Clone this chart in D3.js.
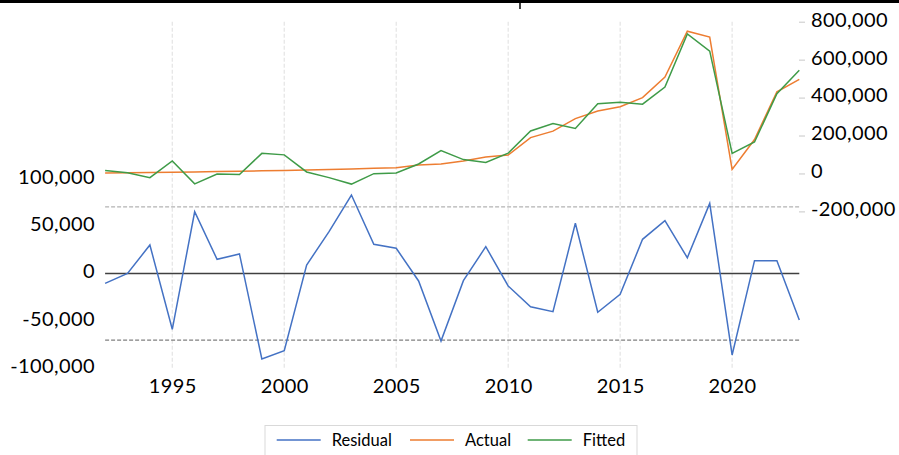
<!DOCTYPE html>
<html>
<head>
<meta charset="utf-8">
<script src="https://cdn.jsdelivr.net/npm/d3@7"></script>
<style>
  body { margin: 0; background: #fff; }
  svg { display: block; font-family: Lato, "Open Sans", sans-serif; }
</style>
</head>
<body>
<svg id="chart" width="899" height="455"></svg>
<script>
// yearly series
const years = d3.range(1992, 2024);
const residual = [-10400, 0, 30200, -59100, 65400, 15000, 20700, -90500, -81800, 9000,
  44300, 83100, 30900, 26700, -7900, -71500, -7600, 28400, -13200, -35200,
  -40500, 53200, -41100, -22000, 36200, 55900, 16700, 74300, -86300, 13600,
  13600, -49200];
const actual = [3000, 4000, 5000, 7000, 8000, 10000, 12000, 14000, 16000, 18000,
  21000, 24000, 28000, 30000, 45000, 50000, 66000, 87000, 97000, 189000,
  223000, 289000, 329000, 352000, 400000, 508000, 750000, 719000, 21000, 179000,
  430000, 496000];
const fitted = [15000, 4000, -22000, 66000, -55000, -3000, -6000, 106000, 98000, 8000,
  -22000, -56000, -1000, 3000, 50000, 121000, 73000, 58000, 107000, 224000,
  263000, 237000, 368000, 375000, 365000, 455000, 736000, 645000, 106000, 166000,
  420000, 544000];
const seBand = 70600;
const resTicks = [-100000, -50000, 0, 50000, 100000];
const levTicks = [-200000, 0, 200000, 400000, 600000, 800000];
const gridYears = [1995, 2000, 2005, 2010, 2015, 2020];
const seriesNames = ["Residual", "Actual", "Fitted"];
const seriesColors = ["#4472c4", "#ed7d31", "#3f9b48"];

const svg = d3.select("#chart");
const plotTop = 21.7, plotBottom = 368;

// plain hyphen for negatives, like the original
const locale = d3.formatLocale({decimal: ".", thousands: ",", grouping: [3], currency: ["", ""], minus: "-"});
const fmt = locale.format(",");

let x = d3.scaleLinear().domain([1992, 2023]).range([105.1, 799.3]);
let yRes = d3.scaleLinear().domain([-100000, 100000]).range([367.9, 179.1]);
let yLev = d3.scaleLinear().domain([-200000, 800000]).range([211.4, 21.7]);

// top border bits
svg.append("line").attr("x1", 0).attr("x2", 899).attr("y1", 1.5).attr("y2", 1.5)
  .attr("stroke", "#000").attr("stroke-width", 3);
svg.append("line").attr("x1", 520).attr("x2", 520).attr("y1", 0).attr("y2", 9)
  .attr("stroke", "#000").attr("stroke-width", 1.5);

// vertical grid lines
svg.append("g").selectAll("line").data(gridYears).enter().append("line")
  .attr("x1", d => x(d)).attr("x2", d => x(d))
  .attr("y1", plotTop).attr("y2", plotBottom)
  .attr("stroke", "#e4e4e4").attr("stroke-width", 1.2)
  .attr("stroke-dasharray", "4,2");

// +/- standard error lines and zero line
svg.append("line").attr("x1", x(1992)).attr("x2", x(2023))
  .attr("y1", yRes(seBand)).attr("y2", yRes(seBand))
  .attr("stroke", "#b3b3b3").attr("stroke-width", 1.2).attr("stroke-dasharray", "4,2");
svg.append("line").attr("x1", x(1992)).attr("x2", x(2023))
  .attr("y1", yRes(-seBand)).attr("y2", yRes(-seBand))
  .attr("stroke", "#808080").attr("stroke-width", 1.2).attr("stroke-dasharray", "4,2");
svg.append("line").attr("x1", x(1992)).attr("x2", x(2023))
  .attr("y1", yRes(0)).attr("y2", yRes(0))
  .attr("stroke", "#404040").attr("stroke-width", 1.5);

// axes
let leftAxis = svg.append("g").attr("transform", "translate(105,0)")
  .call(d3.axisLeft(yRes).tickValues(resTicks).tickSize(0).tickPadding(10).tickFormat(fmt));
let rightAxis = svg.append("g").attr("transform", "translate(799,0)")
  .call(d3.axisRight(yLev).tickValues(levTicks).tickSize(6).tickPadding(6).tickFormat(fmt));
let bottomAxis = svg.append("g").attr("transform", "translate(0," + plotBottom + ")")
  .call(d3.axisBottom(x).tickValues(gridYears).tickSize(0).tickPadding(11).tickFormat(d3.format("d")));

[leftAxis, rightAxis, bottomAxis].forEach(function(g) {
  g.select(".domain").remove();
  g.selectAll("text").attr("font-family", "Lato, sans-serif").attr("font-size", 20)
    .attr("letter-spacing", 0.4).attr("fill", "#000");
});
leftAxis.selectAll("text").attr("dy", "0.22em");
rightAxis.selectAll("text").attr("dy", "0.22em");
rightAxis.selectAll(".tick line").attr("stroke", "#c8c8c8");

// the three series
let resLine = d3.line().x((d, i) => x(years[i])).y(d => yRes(d));
let levLine = d3.line().x((d, i) => x(years[i])).y(d => yLev(d));

svg.append("path").datum(residual).attr("d", resLine)
  .attr("fill", "none").attr("stroke", seriesColors[0]).attr("stroke-width", 1.5);
svg.append("path").datum(actual).attr("d", levLine)
  .attr("fill", "none").attr("stroke", seriesColors[1]).attr("stroke-width", 1.5);
svg.append("path").datum(fitted).attr("d", levLine)
  .attr("fill", "none").attr("stroke", seriesColors[2]).attr("stroke-width", 1.5);

// legend
svg.append("rect").attr("x", 265).attr("y", 425.5).attr("width", 372).attr("height", 40)
  .attr("fill", "#fff").attr("stroke", "#d9d9d9");
const legendX = [276.7, 410, 527.7];
let items = svg.append("g").selectAll("g").data(seriesNames).enter().append("g")
  .attr("transform", (d, i) => "translate(" + legendX[i] + ",440)");
items.append("line").attr("x1", 0).attr("x2", 44).attr("y1", 0).attr("y2", 0)
  .attr("stroke", (d, i) => seriesColors[i]).attr("stroke-width", 1.5);
items.append("text").attr("x", 55).attr("y", 6).text(d => d)
  .attr("font-size", 16.5).attr("fill", "#000");
</script>
</body>
</html>
